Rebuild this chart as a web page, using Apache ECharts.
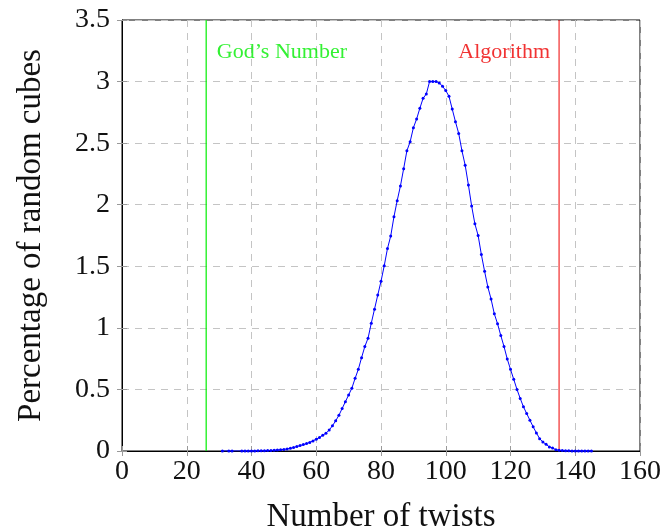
<!DOCTYPE html>
<html>
<head>
<meta charset="utf-8">
<script src="https://cdn.jsdelivr.net/npm/echarts@6/dist/echarts.min.js"></script>
<style>html,body{margin:0;padding:0;background:#fff}#c{width:667px;height:532px}</style>
</head>
<body>
<div id="c"></div>
<script>
const twists = [31,33,34,37,38,39,40,41,42,43,44,45,46,47,48,49,50,51,52,53,54,55,56,57,58,59,60,61,62,63,64,65,66,67,68,69,70,71,72,73,74,75,76,77,78,79,80,81,82,83,84,85,86,87,88,89,90,91,92,93,94,95,96,97,98,99,100,101,102,103,104,105,106,107,108,109,110,111,112,113,114,115,116,117,118,119,120,121,122,123,124,125,126,127,128,129,130,131,132,133,134,135,136,137,138,139,140,141,142,143,144,145];
const percent = [0.0001,0.0002,0.0002,0.0003,0.0004,0.0005,0.0007,0.001,0.0013,0.0018,0.0025,0.0033,0.0045,0.006,0.008,0.010,0.013,0.017,0.022,0.028,0.036,0.044,0.052,0.060,0.070,0.082,0.096,0.11,0.127,0.145,0.17,0.205,0.245,0.29,0.345,0.40,0.455,0.51,0.59,0.663,0.758,0.848,0.916,1.038,1.152,1.266,1.378,1.505,1.644,1.745,1.902,2.033,2.152,2.293,2.438,2.511,2.625,2.696,2.783,2.864,2.899,3.0,3.0,3.0,2.989,2.962,2.927,2.88,2.777,2.674,2.579,2.438,2.321,2.16,1.989,1.845,1.75,1.595,1.459,1.332,1.234,1.114,1.033,0.938,0.848,0.747,0.663,0.582,0.5,0.427,0.359,0.304,0.25,0.196,0.147,0.1,0.073,0.054,0.033,0.024,0.011,0.006,0.004,0.003,0.002,0.001,0.001,0.001,0.001,0.001,0.001,0.001];
const godsNumber = 26;
const algorithm = 135;
const xTicks = [0,20,40,60,80,100,120,140,160];
const yTicks = [0,0.5,1,1.5,2,2.5,3,3.5];
const xTitle = 'Number of twists';
const yTitle = 'Percentage of random cubes';

const font = 'Liberation Serif';
const chart = echarts.init(document.getElementById('c'));
const gridLine = {show:true, lineStyle:{color:'#c4c4c4', type:[7,6], width:1}};
const tickIn = {show:true, inside:true, length:5, lineStyle:{color:'#999'}};
chart.setOption({
  animation:false,
  grid:{left:122, right:27, top:20, bottom:81, show:true, borderColor:'#000', borderWidth:1,
    containLabel:false, outerBoundsMode:'none'},
  xAxis:[{
    type:'value', min:0, max:160, interval:20,
    name:xTitle, nameLocation:'middle', nameGap:50,
    nameTextStyle:{fontFamily:font, fontSize:33, color:'#111'},
    axisLine:{show:true, lineStyle:{color:'#000'}},
    axisTick:tickIn,
    axisLabel:{fontFamily:font, fontSize:28, color:'#111', margin:7,
      formatter:v=>xTicks.includes(v)?String(v):''},
    splitLine:gridLine
  },{
    type:'value', min:0, max:160, interval:20, position:'top',
    axisLine:{show:false}, axisTick:tickIn, axisLabel:{show:false}, splitLine:{show:false}
  }],
  yAxis:[{
    type:'value', min:0, max:3.5, interval:0.5,
    name:yTitle, nameLocation:'middle', nameGap:74, nameRotate:90,
    nameTextStyle:{fontFamily:font, fontSize:33, color:'#111'},
    axisLine:{show:true, lineStyle:{color:'#000'}},
    axisTick:tickIn,
    axisLabel:{fontFamily:font, fontSize:28, color:'#111', margin:12,
      formatter:v=>yTicks.includes(v)?String(v):''},
    splitLine:gridLine
  },{
    type:'value', min:0, max:3.5, interval:0.5, position:'right',
    axisLine:{show:false}, axisTick:tickIn, axisLabel:{show:false}, splitLine:{show:false}
  }],
  series:[{
    type:'line', data:[[godsNumber,0],[godsNumber,3.5]], symbol:'none', silent:true,
    lineStyle:{color:'#00ee00', width:1.2}, z:3
  },{
    type:'line', data:[[algorithm,0],[algorithm,3.5]], symbol:'none', silent:true,
    lineStyle:{color:'#ee0000', width:1}, z:3
  },{
    type:'line',
    data:twists.map((x,i)=>[x,percent[i]]),
    symbol:'circle', symbolSize:3, showSymbol:true,
    lineStyle:{color:'#0000ff', width:1},
    itemStyle:{color:'#0000ff'},
    z:5
  },{
    type:'scatter', symbolSize:0, silent:true,
    data:[
      {value:[godsNumber+3.3,3.24], label:{show:true, position:'right', distance:0, formatter:"God\u2019s Number", color:'#00ee00', fontFamily:font, fontSize:22}},
      {value:[algorithm-2.8,3.24], label:{show:true, position:'left', distance:0, formatter:'Algorithm', color:'#ee0000', fontFamily:font, fontSize:22}}
    ]
  }]
});
</script>
</body>
</html>
